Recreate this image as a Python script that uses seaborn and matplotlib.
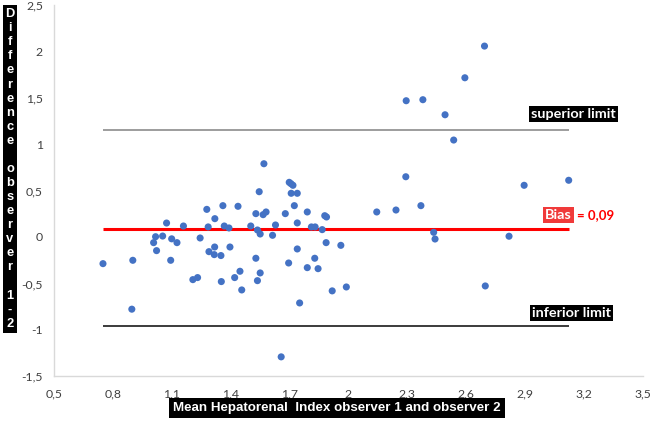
import numpy as np
import pandas as pd
import matplotlib
matplotlib.use('Agg')
import matplotlib.pyplot as plt
from matplotlib.ticker import FixedLocator, FuncFormatter
import seaborn as sns

# mean of the two observers (x) and difference observer 1 - 2 (y)
mean_hri = [0.749, 0.901, 0.896, 1.073, 1.017, 1.007, 1.053, 1.022, 1.099, 1.126,
            1.094, 1.159, 1.244, 1.278, 1.319, 1.360, 1.437, 1.285, 1.367, 1.391,
            1.289, 1.316, 1.318, 1.350, 1.396, 1.207, 1.231, 1.352, 1.420, 1.447,
            1.456, 1.502, 1.528, 1.545, 1.536, 1.550, 1.528, 1.550, 1.536, 1.569,
            1.565, 1.580, 1.613, 1.628, 1.678, 1.698, 1.707, 1.717, 1.708, 1.739,
            1.724, 1.739, 1.790, 1.811, 1.830, 1.866, 1.879, 1.888, 1.886, 1.961,
            1.739, 1.695, 1.828, 1.790, 1.845, 1.917, 1.989, 1.751, 1.657, 2.144,
            2.242, 2.369, 2.292, 2.434, 2.441, 2.818, 2.697, 2.693, 2.593, 2.294,
            2.379, 2.492, 2.536, 2.895, 3.122]
diff_hri = [-0.287, -0.251, -0.777, 0.150, 0.003, -0.061, 0.010, -0.147, -0.020, -0.061,
            -0.251, 0.118, -0.011, 0.297, 0.197, 0.337, 0.330, 0.108, 0.118, 0.097,
            -0.158, -0.190, -0.108, -0.200, -0.108, -0.459, -0.437, -0.480, -0.437, -0.369,
            -0.570, 0.118, 0.251, 0.487, 0.075, 0.032, -0.229, -0.387, -0.470, 0.788,
            0.240, 0.269, 0.018, 0.129, 0.251, 0.588, 0.573, 0.556, 0.470, 0.470,
            0.337, 0.151, 0.269, 0.108, 0.108, 0.079, 0.229, 0.215, -0.061, -0.090,
            -0.129, -0.280, -0.229, -0.330, -0.341, -0.580, -0.538, -0.710, -1.290, 0.269,
            0.290, 0.337, 0.648, 0.050, -0.022, 0.008, -0.527, 2.054, 1.713, 1.466,
            1.477, 1.315, 1.043, 0.556, 0.610]

bias = 0.09
upper_limit = 1.15
lower_limit = -0.96

x_ticks = [0.5, 0.8, 1.1, 1.4, 1.7, 2.0, 2.3, 2.6, 2.9, 3.2, 3.5]
y_ticks = [-1.5, -1, -0.5, 0, 0.5, 1, 1.5, 2, 2.5]

df = pd.DataFrame({'mean': mean_hri, 'diff': diff_hri})

sns.set_style('white')
plt.rcParams['font.family'] = ['Lato', 'DejaVu Sans']

fig = plt.figure(figsize=(6.52, 4.21), dpi=100)
ax = fig.add_axes([0.083, 0.106, 0.903, 0.883])

sns.scatterplot(data=df, x='mean', y='diff', color='#4472C4', s=26,
                edgecolor='none', ax=ax, zorder=3)

# limit lines span the range of the data
x0, x1 = df['mean'].min(), df['mean'].max()
ax.hlines(upper_limit, x0, x1, color='#8c8c8c', lw=1.2, zorder=2)
ax.hlines(lower_limit, x0, x1, color='#1a1a1a', lw=1.2, zorder=2)
ax.hlines(bias, x0, x1, color='#ff0000', lw=2.2, zorder=2)

ax.set_xlim(x_ticks[0], x_ticks[-1])
ax.set_ylim(y_ticks[0], y_ticks[-1])
ax.xaxis.set_major_locator(FixedLocator(x_ticks))
ax.yaxis.set_major_locator(FixedLocator(y_ticks))
comma = FuncFormatter(lambda v, p: f'{v:g}'.replace('.', ','))
ax.xaxis.set_major_formatter(comma)
ax.yaxis.set_major_formatter(comma)
ax.tick_params(axis='both', length=0, labelsize=8.8, colors='#404040')
ax.tick_params(axis='x', pad=9)
ax.tick_params(axis='y', pad=8)

sns.despine(ax=ax, top=True, right=True)
for side in ['left', 'bottom']:
    ax.spines[side].set_color('#d9d9d9')
    ax.spines[side].set_linewidth(1)

# annotations
box = dict(facecolor='black', edgecolor='none', pad=1.5)
ax.text(3.147, upper_limit + 0.17, 'superior limit', color='white', fontsize=10.4,
        fontweight='bold', ha='center', va='center', bbox=box)
ax.text(3.135, lower_limit + 0.14, 'inferior limit', color='white', fontsize=10.4,
        fontweight='bold', ha='center', va='center', bbox=box)
ax.text(3.07, bias + 0.15, 'Bias', color='white', fontsize=10.4, fontweight='bold',
        ha='center', va='center', bbox=dict(facecolor='#f03a3a', edgecolor='none', pad=1.5))
ax.text(3.165, bias + 0.15, '= 0,09', color='#ff0000', fontsize=9.5, fontweight='bold',
        ha='left', va='center')

ax.set_xlabel('Mean Hepatorenal  Index observer 1 and observer 2', color='white',
              fontsize=9.6, fontweight='bold', family=['Liberation Sans', 'DejaVu Sans'],
              va='center', bbox=dict(facecolor='black', edgecolor='none', pad=3))
ax.xaxis.set_label_coords(0.48, -0.085)
ax.set_ylabel('')

ylab = '\n'.join(list('Difference observer 1-2'))
fig.text(0.0153, 0.5986, ylab, color='white', fontsize=9.3, fontweight='bold',
         family=['Liberation Sans', 'DejaVu Sans'], ha='center', va='center',
         multialignment='center', linespacing=1.23,
         bbox=dict(facecolor='black', edgecolor='none', pad=2))

fig.savefig('out.png', dpi=100)
